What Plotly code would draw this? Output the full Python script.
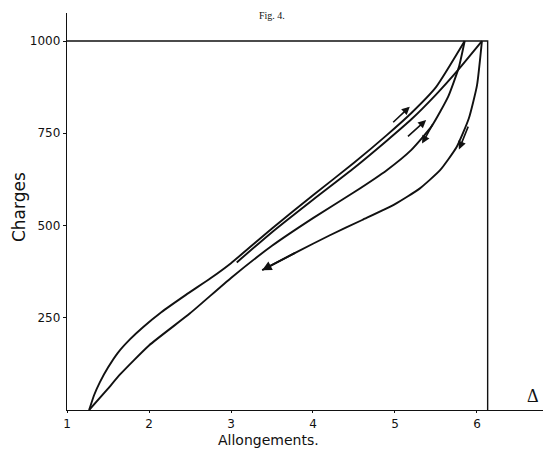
import plotly.graph_objects as go

# ---- data ----
# Loading curve 1 (up to 1000 at ~5.85)
load1_x = [1.27, 1.33, 1.40, 1.50, 1.62, 1.77, 1.93, 2.15, 2.45, 2.75, 3.00, 3.50, 4.00, 4.50, 4.90, 5.20, 5.50, 5.85]
load1_y = [0, 40, 75, 115, 155, 192, 225, 265, 312, 357, 398, 492, 582, 670, 745, 805, 875, 1000]
# Unloading curve 1 (from 1000 back to the origin)
unload1_x = [5.85, 5.78, 5.65, 5.45, 5.20, 4.90, 4.50, 4.00, 3.50, 3.00, 2.50, 2.00, 1.65, 1.50, 1.27]
unload1_y = [1000, 930, 850, 770, 705, 650, 590, 520, 445, 358, 262, 175, 97, 58, 0]
# Reloading curve 2 (up to 1000 at ~6.06)
load2_x = [3.07, 3.50, 4.00, 4.50, 4.90, 5.20, 5.50, 5.77, 6.06]
load2_y = [400, 482, 570, 656, 730, 788, 855, 922, 1000]
# Unloading curve 2 (ends with an arrow)
unload2_x = [6.06, 6.00, 5.90, 5.75, 5.55, 5.30, 5.00, 4.60, 4.20, 3.80, 3.38]
unload2_y = [1000, 880, 790, 712, 650, 600, 558, 515, 473, 428, 379]

# direction arrows: (tail_x, tail_y, head_x, head_y)
arrows = [
    (4.96, 776, 5.18, 822),
    (5.14, 738, 5.38, 786),
    (5.47, 778, 5.33, 722),
    (5.90, 772, 5.78, 706),
]

frame_x = 6.13      # right border of the diagram
max_load = 1000
x_ticks = [1, 2, 3, 4, 5, 6]
y_ticks = [250, 500, 750, 1000]

ink = "#111111"
fig = go.Figure()
for xs, ys in [(load1_x, load1_y), (unload1_x, unload1_y), (load2_x, load2_y), (unload2_x, unload2_y)]:
    fig.add_trace(go.Scatter(x=xs, y=ys, mode="lines",
                             line=dict(color=ink, width=1.9, shape="spline", smoothing=0.5),
                             hoverinfo="skip", showlegend=False))

# frame: top line at 1000 and right vertical border
fig.add_trace(go.Scatter(x=[1, frame_x, frame_x], y=[max_load, max_load, 0], mode="lines",
                         line=dict(color=ink, width=1.4), hoverinfo="skip", showlegend=False))
# arrow head at the end of unloading curve 2
fig.add_annotation(x=unload2_x[-1], y=unload2_y[-1], ax=unload2_x[-2], ay=unload2_y[-2],
                   xref="x", yref="y", axref="x", ayref="y", text="", showarrow=True,
                   arrowhead=2, arrowsize=1, arrowwidth=1.9, arrowcolor=ink, standoff=0)
for tx, ty, hx, hy in arrows:
    fig.add_annotation(x=hx, y=hy, ax=tx, ay=ty, xref="x", yref="y", axref="x", ayref="y",
                       text="", showarrow=True, arrowhead=2, arrowsize=1, arrowwidth=1.6,
                       arrowcolor=ink, standoff=0)

font_main = "DejaVu Sans"
fig.add_annotation(text="Charges", xref="paper", yref="paper", x=-0.101, y=0.511, textangle=-90,
                   xanchor="center", yanchor="middle",
                   showarrow=False, font=dict(family=font_main, size=17, color=ink))
fig.add_annotation(text="Allongements.", xref="paper", yref="paper", x=0.4236, y=-0.0755,
                   xanchor="center", yanchor="middle",
                   showarrow=False, font=dict(family=font_main, size=14, color=ink))
fig.add_annotation(text="Δ", xref="paper", yref="paper", x=0.963, y=0.035, xanchor="left",
                   yanchor="middle",
                   showarrow=False, font=dict(family="Liberation Serif", size=18, color=ink))
fig.add_annotation(text="Fig. 4.", xref="paper", yref="paper", x=0.43, y=1.0126, yanchor="top",
                   showarrow=False, font=dict(family="Liberation Serif", size=10, color=ink))

fig.update_layout(
    width=535, height=441,
    margin=dict(l=59, r=0, t=5, b=39),
    paper_bgcolor="white", plot_bgcolor="white",
    xaxis=dict(range=[1, 6.805], tickvals=x_ticks, ticktext=[str(v) for v in x_ticks],
               showgrid=False, zeroline=False, showline=True, linecolor=ink, linewidth=1.4,
               ticks="outside", ticklen=2, tickcolor=ink, tickwidth=1.3,
               tickfont=dict(family=font_main, size=12, color=ink)),
    yaxis=dict(range=[0, 1076], tickvals=y_ticks, ticktext=[str(v) for v in y_ticks],
               showgrid=False, zeroline=False, showline=True, linecolor=ink, linewidth=1.4,
               ticks="outside", ticklen=3, tickcolor=ink, tickwidth=1.3,
               tickfont=dict(family=font_main, size=12, color=ink)),
)
fig.write_html("out.html")
